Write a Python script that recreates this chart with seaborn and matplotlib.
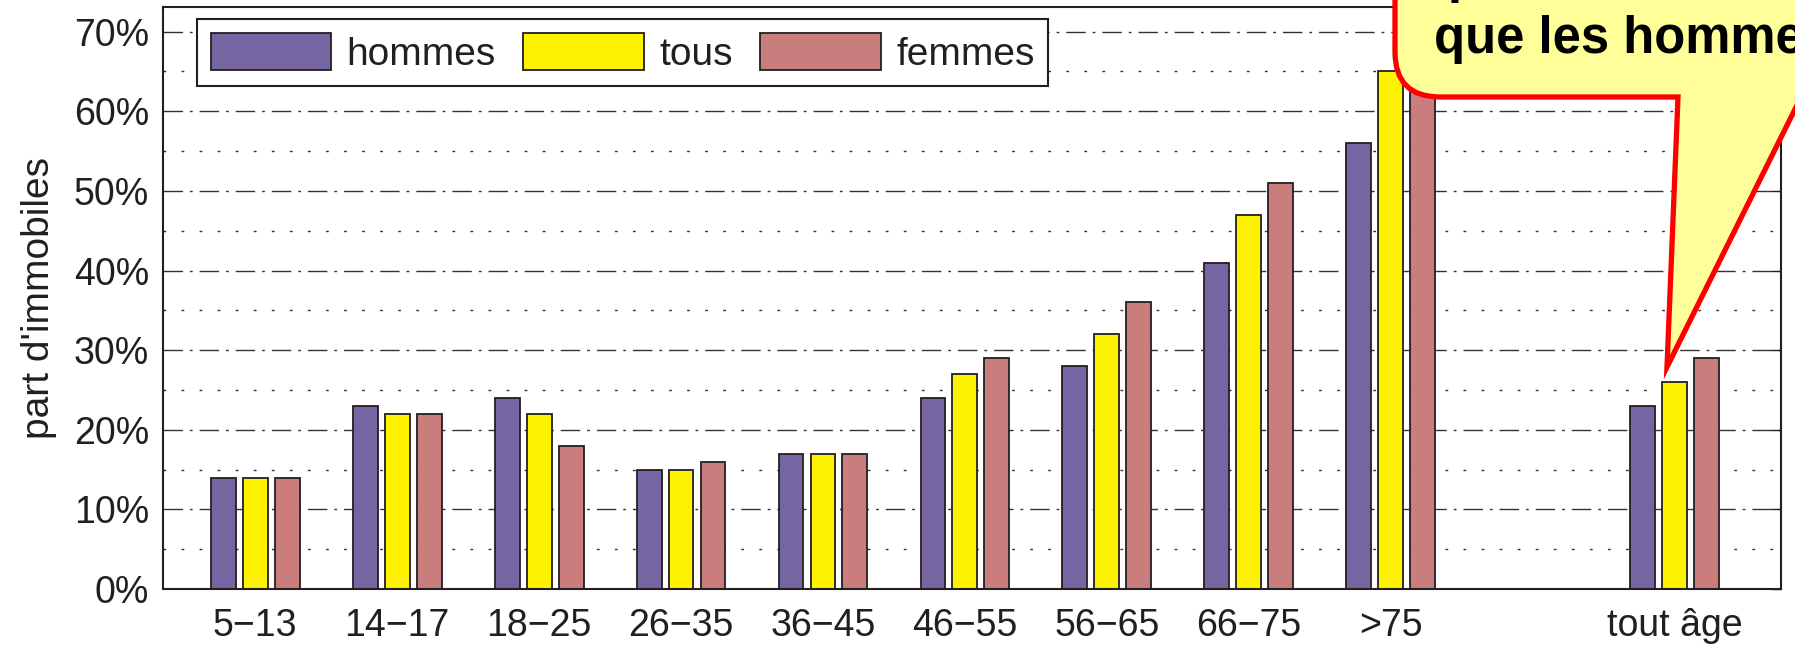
import numpy as np
import pandas as pd
import matplotlib
matplotlib.use('Agg')
import matplotlib.pyplot as plt
import matplotlib.transforms as mtransforms
from matplotlib.path import Path
from matplotlib.patches import PathPatch
import seaborn as sns

sns.set_theme(style='white')
plt.rcParams['font.family'] = ['Liberation Sans', 'DejaVu Sans']
plt.rcParams['text.color'] = '#231f20'
plt.rcParams['axes.labelcolor'] = '#231f20'
plt.rcParams['xtick.color'] = '#231f20'
plt.rcParams['ytick.color'] = '#231f20'

# données (part d'immobiles en %)
categories = ['5\u221213', '14\u221217', '18\u221225', '26\u221235', '36\u221245',
              '46\u221255', '56\u221265', '66\u221275', '>75', 'tout âge']
hommes = [14, 23, 24, 15, 17, 24, 28, 41, 56, 23]
tous = [14, 22, 22, 15, 17, 27, 32, 47, 65, 26]
femmes = [14, 22, 18, 16, 17, 29, 36, 51, 70, 29]
series = ['hommes', 'tous', 'femmes']
couleurs = ['#7566a3', '#fff200', '#c97d7d']
y_ticks = [0, 10, 20, 30, 40, 50, 60, 70]

# ordre des catégories avec une case vide avant "tout âge"
order = categories[:9] + [' '] + categories[9:]

df = pd.DataFrame({
    'age': categories * 3,
    'part': hommes + tous + femmes,
    'serie': sum([[s] * len(categories) for s in series], []),
})

W, H = 1795, 646
fig = plt.figure(figsize=(W / 100, H / 100), dpi=100)
ax = fig.add_axes([163 / W, (H - 589) / H, (1781 - 163) / W, (589 - 7) / H])

sns.barplot(data=df, x='age', y='part', hue='serie', order=order,
            hue_order=series, palette=couleurs, width=0.675, gap=0.22,
            edgecolor='#231f20', linewidth=1.3, errorbar=None, saturation=1,
            ax=ax)

ax.set_xlim(-0.65, 10.75)
ax.set_ylim(0, 73.1)
ax.set_yticks(y_ticks)
ax.set_yticklabels([f'{v}%' for v in y_ticks])
ax.set_yticks(np.arange(5, 75, 10), minor=True)

# grille façon MATLAB
ax.set_axisbelow(True)
ax.grid(True, axis='y', which='major', color='#333333', linewidth=1,
        linestyle=(0, (14, 5, 2, 5)))
ax.grid(True, axis='y', which='minor', color='#333333', linewidth=1,
        linestyle=(0, (2, 11)))
ax.grid(False, axis='x')

ax.set_xlabel('')
ax.set_ylabel("part d'immobiles", fontsize=28, labelpad=12)
ax.tick_params(axis='both', which='major', labelsize=27, direction='in',
               length=7, width=1, color='#231f20', pad=10)
ax.tick_params(axis='x', which='major', pad=14, length=5)
ax.tick_params(axis='y', which='both', right=True)
ax.tick_params(axis='y', which='minor', length=0)
for sp in ax.spines.values():
    sp.set_visible(True)
    sp.set_color('#231f20')
    sp.set_linewidth(1.5)

handles, labels = ax.get_legend_handles_labels()
ax.legend(handles, labels, loc='upper left', bbox_to_anchor=(0.021, 0.979),
          ncol=3, fontsize=28, frameon=True, fancybox=False, framealpha=1,
          edgecolor='#231f20', borderaxespad=0, borderpad=0.35,
          handlelength=3.1, handleheight=1.1, handletextpad=0.4,
          columnspacing=0.7)
ax.get_legend().get_frame().set_linewidth(1.5)

# bulle de commentaire (coordonnées en pixels, y depuis le haut)
def px(x, y):
    return (x, H - y)

R = 45
verts = [px(1395, -60), px(1395, 97 - R), px(1395, 97), px(1395 + R, 97),
         px(1678, 97), px(1667, 367), px(1810, 79), px(1810, -60), px(1395, -60)]
codes = [Path.MOVETO, Path.LINETO, Path.CURVE3, Path.CURVE3,
         Path.LINETO, Path.LINETO, Path.LINETO, Path.LINETO, Path.CLOSEPOLY]
bulle = PathPatch(Path(verts, codes), facecolor='#ffff99', edgecolor='#ff0000',
                  linewidth=3.8, joinstyle='miter',
                  transform=mtransforms.IdentityTransform())
fig.add_artist(bulle)

ident = mtransforms.IdentityTransform()
fig.text(*px(1448, -8), 'plus immobiles', fontsize=36.5, fontweight='bold',
         color='black', ha='left', va='baseline', transform=ident)
fig.text(*px(1434, 53), 'que les hommes', fontsize=36.5, fontweight='bold',
         color='black', ha='left', va='baseline', transform=ident)

fig.savefig('out.png', dpi=100)
